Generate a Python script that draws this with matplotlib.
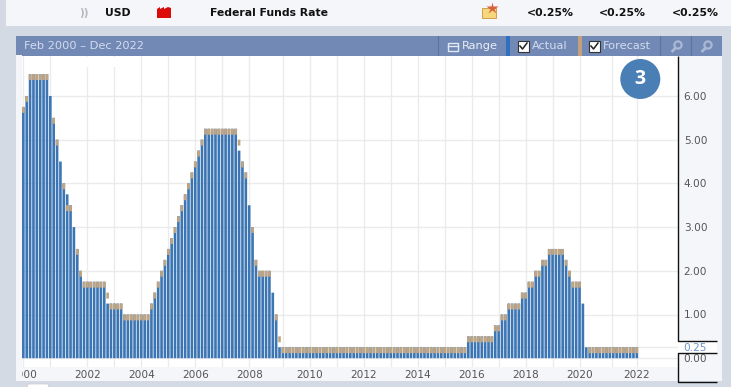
import matplotlib
matplotlib.use("Agg")
import matplotlib.pyplot as plt
from matplotlib.patches import Rectangle, Circle, Polygon, FancyBboxPatch

nan = float("nan")

actual = [
    5.75, 6.0, 6.5, 6.5, 6.5, 6.5, 6.5, 6.5, 6.0, 5.5,
    5.0, 4.5, 4.0, 3.75, 3.5, 3.0, 2.5, 2.0, 1.75, 1.75,
    1.75, 1.75, 1.75, 1.75, 1.75, 1.25, 1.25, 1.25, 1.25, 1.25,
    1.0, 1.0, 1.0, 1.0, 1.0, 1.0, 1.0, 1.0, 1.25, 1.5,
    1.75, 2.0, 2.25, 2.5, 2.75, 3.0, 3.25, 3.5, 3.75, 4.0,
    4.25, 4.5, 4.75, 5.0, 5.25, 5.25, 5.25, 5.25, 5.25, 5.25,
    5.25, 5.25, 5.25, 5.25, 4.75, 4.5, 4.25, 3.5, 3.0, 2.25,
    2.0, 2.0, 2.0, 2.0, 1.5, 1.0, 0.25, 0.25, 0.25, 0.25,
    0.25, 0.25, 0.25, 0.25, 0.25, 0.25, 0.25, 0.25, 0.25, 0.25,
    0.25, 0.25, 0.25, 0.25, 0.25, 0.25, 0.25, 0.25, 0.25, 0.25,
    0.25, 0.25, 0.25, 0.25, 0.25, 0.25, 0.25, 0.25, 0.25, 0.25,
    0.25, 0.25, 0.25, 0.25, 0.25, 0.25, 0.25, 0.25, 0.25, 0.25,
    0.25, 0.25, 0.25, 0.25, 0.25, 0.25, 0.25, 0.25, 0.25, 0.25,
    0.25, 0.25, 0.5, 0.5, 0.5, 0.5, 0.5, 0.5, 0.5, 0.5,
    0.75, 0.75, 1.0, 1.0, 1.25, 1.25, 1.25, 1.25, 1.5, 1.5,
    1.75, 1.75, 2.0, 2.0, 2.25, 2.25, 2.5, 2.5, 2.5, 2.5,
    2.5, 2.25, 2.0, 1.75, 1.75, 1.75, 1.25, 0.25, 0.25, 0.25,
    0.25, 0.25, 0.25, 0.25, 0.25, 0.25, 0.25, 0.25, 0.25, 0.25,
    0.25, 0.25, 0.25,
]
forecast = [
    5.75, 6.0, 6.5, 6.5, 6.5, 6.5, 6.5, 6.5, nan, 5.5,
    5.0, nan, 4.0, 3.5, 3.5, nan, 2.5, 2.0, 1.75, 1.75,
    1.75, 1.75, 1.75, 1.75, 1.75, 1.5, 1.25, 1.25, 1.25, 1.25,
    1.0, 1.0, 1.0, 1.0, 1.0, 1.0, 1.0, 1.0, 1.25, 1.5,
    1.75, 2.0, 2.25, 2.5, 2.75, 3.0, 3.25, 3.5, 3.75, 4.0,
    4.25, 4.5, 4.75, 5.0, 5.25, 5.25, 5.25, 5.25, 5.25, 5.25,
    5.25, 5.25, 5.25, 5.25, 5.0, 4.5, 4.25, nan, 3.0, 2.25,
    2.0, 2.0, 2.0, 2.0, nan, 1.0, 0.5, 0.25, 0.25, 0.25,
    0.25, 0.25, 0.25, 0.25, 0.25, 0.25, 0.25, 0.25, 0.25, 0.25,
    0.25, 0.25, 0.25, 0.25, 0.25, 0.25, 0.25, 0.25, 0.25, 0.25,
    0.25, 0.25, 0.25, 0.25, 0.25, 0.25, 0.25, 0.25, 0.25, 0.25,
    0.25, 0.25, 0.25, 0.25, 0.25, 0.25, 0.25, 0.25, 0.25, 0.25,
    0.25, 0.25, 0.25, 0.25, 0.25, 0.25, 0.25, 0.25, 0.25, 0.25,
    0.25, 0.25, 0.5, 0.5, 0.5, 0.5, 0.5, 0.5, 0.5, 0.5,
    0.75, 0.75, 1.0, 1.0, 1.25, 1.25, 1.25, 1.25, 1.5, 1.5,
    1.75, 1.75, 2.0, 2.0, 2.25, 2.25, 2.5, 2.5, 2.5, 2.5,
    2.5, 2.25, 2.0, 1.75, 1.75, 1.75, nan, nan, 0.25, 0.25,
    0.25, 0.25, 0.25, 0.25, 0.25, 0.25, 0.25, 0.25, 0.25, 0.25,
    0.25, 0.25, 0.25,
]
year_ticks = [0, 8, 19, 27, 35, 43, 51, 59, 67, 77, 85, 93, 101, 109, 117, 125, 133, 141, 149, 157, 165, 174.5, 182]
year_labels = ["2000", "", "2002", "", "2004", "", "2006", "", "2008", "", "2010", "", "2012", "",
               "2014", "", "2016", "", "2018", "", "2020", "", "2022"]
y_ticks = [0, 0.25, 1, 2, 3, 4, 5, 6, 7]
y_labels = ["0.00", "0.25", "1.00", "2.00", "3.00", "4.00", "5.00", "6.00", "7.00"]
cap = 0.135

W, H = 731, 387
GREY, LIGHT = "#d4dae3", "#f5f6fa"
HEAD = "#7289b5"
BLUE, TAN = "#3b75b4", "#c2a57f"

fig = plt.figure(figsize=(W / 100, H / 100), dpi=100, facecolor=GREY)

def rect_axes(x0, y0, x1, y1):
    return [x0 / W, 1 - y1 / H, (x1 - x0) / W, (y1 - y0) / H]

# backdrop and overlay chrome in pixel coordinates
bg = fig.add_axes([0, 0, 1, 1], zorder=0)
bg.set_xlim(0, W); bg.set_ylim(H, 0); bg.axis("off")
ui = fig.add_axes([0, 0, 1, 1], zorder=5)
ui.set_xlim(0, W); ui.set_ylim(H, 0); ui.axis("off"); ui.patch.set_alpha(0)

bg.add_patch(Rectangle((16, 36), 706, 345, fc=LIGHT, ec="none"))
bg.add_patch(Rectangle((677.5, 341), 39.5, 11.5, fc="white", ec="none"))

# main chart
PX_PER_BAR = 3.37
ZERO, UNIT = 358.2, 43.7
top_px, bot_px = 48, 367
ax = fig.add_axes(rect_axes(22, top_px, 677.5, bot_px), zorder=1)
ax.set_xlim(-0.4, (677.5 - 23.5) / PX_PER_BAR)
ax.set_ylim((ZERO - bot_px) / UNIT, (ZERO - top_px) / UNIT)
ax.set_facecolor("white")
ax.set_axisbelow(True)
xs = list(range(len(actual)))
blue_bars = ax.bar(xs, actual, width=0.78, color=BLUE, linewidth=0, zorder=2)
tan_bars = ax.bar(xs, [cap] * len(xs), bottom=[f - cap for f in forecast], width=0.78, color=TAN, linewidth=0, zorder=3)
for b in list(blue_bars) + list(tan_bars):
    b.set_snap(False)
ax.set_xticks(year_ticks, year_labels)
ax.yaxis.tick_right()
ax.set_yticks(y_ticks, y_labels)
ax.grid(True, color="#ebebeb", linewidth=1)
ax.tick_params(axis="x", length=0, pad=2.5, labelsize=7.6, labelcolor="#555555")
ax.tick_params(axis="y", length=0, pad=4.5, labelsize=7.6, labelcolor="#555555")
for s in ax.spines.values():
    s.set_visible(False)
ax.get_yticklabels()[1].set_color("#6a97c8")

# top band
ui.add_patch(Rectangle((6, 0), W - 6, 26, fc=LIGHT, ec="none"))
ui.text(84, 13, "))", fontsize=7.5, fontweight="bold", color="#b5b9bf", ha="center", va="center")
ui.text(118, 13, "USD", fontsize=7.8, fontweight="bold", color="#111111", ha="center", va="center")
ui.add_patch(Polygon([(157, 18), (157, 9), (160, 7), (160, 9), (164, 7), (164, 9), (168, 7), (171, 8), (171, 18)],
                     fc="#dd0a0a", ec="none"))
ui.text(269, 13, "Federal Funds Rate", fontsize=7.8, fontweight="bold", color="#111111", ha="center", va="center")
ui.add_patch(Rectangle((482, 8), 14, 10, fc="#f6d77c", ec="#cfa04c", lw=0.7))
ui.plot([491.5], [8], marker="*", ms=9, color="#d9603c", mec="none")
for xc in (550, 622, 695):
    ui.text(xc, 13, "<0.25%", fontsize=7.8, fontweight="bold", color="#111111", ha="center", va="center")

# header bar
ui.add_patch(Rectangle((16, 36), 706, 19.5, fc=HEAD, ec="none"))
ui.text(24.5, 46, "Feb 2000 \u2013 Dec 2022", fontsize=8.2, color="#d3dcee", ha="left", va="center")
for xs_ in (437.7, 660, 691):
    ui.plot([xs_, xs_], [36, 55], color="#5d74a2", lw=0.8)
ui.add_patch(Rectangle((448, 43), 9.5, 7.5, fc="none", ec="#e2e8f4", lw=1))
ui.plot([448, 457.5], [45.5, 45.5], color="#e2e8f4", lw=1)
ui.text(462, 46, "Range", fontsize=8.2, fontweight="medium", color="#eaeef7", ha="left", va="center")
ui.add_patch(Rectangle((506, 36), 4, 19.5, fc="#2f6fc0", ec="none"))
ui.add_patch(Rectangle((578, 36), 3.5, 19.5, fc="#c2a07a", ec="none"))
for bx in (518, 589):
    ui.add_patch(Rectangle((bx, 40.5), 11, 11, fc="white", ec="#333333", lw=0.8))
    ui.plot([bx + 2, bx + 4.5, bx + 9], [46, 49, 43], color="#222222", lw=1.1)
ui.text(532, 46, "Actual", fontsize=8.2, color="#d3dcee", ha="left", va="center")
ui.text(603, 46, "Forecast", fontsize=8.2, color="#d3dcee", ha="left", va="center")
for mx in (677, 707):
    ui.add_patch(Circle((mx + 1, 45), 3.6, fc="none", ec="#a9b8d4", lw=1.6))
    ui.plot([mx - 1.5, mx - 4.5], [48, 51], color="#a9b8d4", lw=2)

# left cover that clips the first year label, and the badge
ui.add_patch(Rectangle((0, 26), 16, H - 26, fc=GREY, ec="none"))
ui.add_patch(Rectangle((16, 55), 5.8, 326, fc=LIGHT, ec="none"))
ui.add_patch(Rectangle((52, 57), 68, 10, fc="white", ec="none"))
ui.add_patch(Circle((640.3, 79), 20, fc="#4a7fb5", ec="none"))
ui.text(640.3, 79, "3", fontsize=14, fontweight="bold", family="Open Sans", color="white", ha="center", va="center")

# right-hand axis frame
frame = "#111111"
ui.plot([677.5, 677.5, 717], [55.5, 341, 341], color=frame, lw=1, solid_capstyle="butt")
ui.plot([717, 677.5, 677.5, 717], [352.5, 352.5, 381.5, 381.5], color=frame, lw=1, solid_capstyle="butt")
ui.add_patch(FancyBboxPatch((29, 385.5), 18, 6, boxstyle="round,pad=1.5", fc="white", ec="#c7ccd4", lw=0.5))
ui.set_xlim(0, W); ui.set_ylim(H, 0)

fig.savefig("out.png", dpi=100, facecolor=GREY)
